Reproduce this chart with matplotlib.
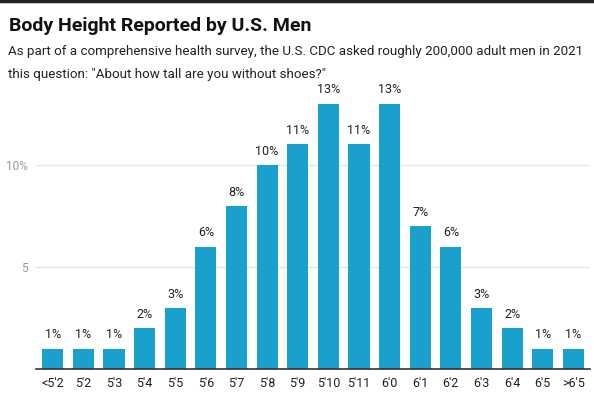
import matplotlib.pyplot as plt
import numpy as np

plt.rcParams['font.family'] = ['Roboto', 'DejaVu Sans']

# data
heights = ["<5'2", "5'2", "5'3", "5'4", "5'5", "5'6", "5'7", "5'8", "5'9",
           "5'10", "5'11", "6'0", "6'1", "6'2", "6'3", "6'4", "6'5", ">6'5"]
share = [1, 1, 1, 2, 3, 6, 8, 10, 11, 13, 11, 13, 7, 6, 3, 2, 1, 1]
ytick_vals = [5, 10]
ytick_labels = ['5', '10%']

fig = plt.figure(figsize=(5.94, 3.97), dpi=100)
ax = fig.add_axes([0.061, 0.0705, 0.932, 0.689])

x = np.arange(len(heights))
ax.bar(x, share, width=0.69, color='#19a0cc', zorder=3)
for xi, v in zip(x, share):
    ax.text(xi, v + 0.35, '{}%'.format(v), ha='center', va='bottom',
            fontsize=9, color='#222222')

ax.set_xlim(-0.54, len(heights) - 0.46)
ax.set_ylim(0, 13.4)
ax.set_xticks(x)
ax.set_xticklabels(heights, fontsize=9, color='#222222')
ax.set_yticks(ytick_vals)
ax.set_yticklabels(ytick_labels, fontsize=8.5, color='#999999')
ax.tick_params(axis='x', length=0, pad=6)
ax.tick_params(axis='y', length=0, pad=6)
ax.grid(axis='y', color='#e6e6e6', linewidth=1, zorder=0)
for s in ['top', 'right', 'left']:
    ax.spines[s].set_visible(False)
ax.spines['bottom'].set_color('#333333')
ax.spines['bottom'].set_linewidth(1.2)
ax.spines['bottom'].set_zorder(4)

# top border line
fig.add_artist(plt.Line2D([0, 1], [0.997, 0.997], color='#222222', linewidth=2.5))

fig.text(0.015, 0.958, 'Body Height Reported by U.S. Men', fontsize=14,
         fontweight='bold', color='#111111', va='top')
fig.text(0.013, 0.887, 'As part of a comprehensive health survey, the U.S. CDC asked roughly 200,000 adult men in 2021',
         fontsize=9.6, color='#222222', va='top')
fig.text(0.013, 0.829, 'this question: "About how tall are you without shoes?"',
         fontsize=9.6, color='#222222', va='top')

fig.savefig('out.png', dpi=100)
